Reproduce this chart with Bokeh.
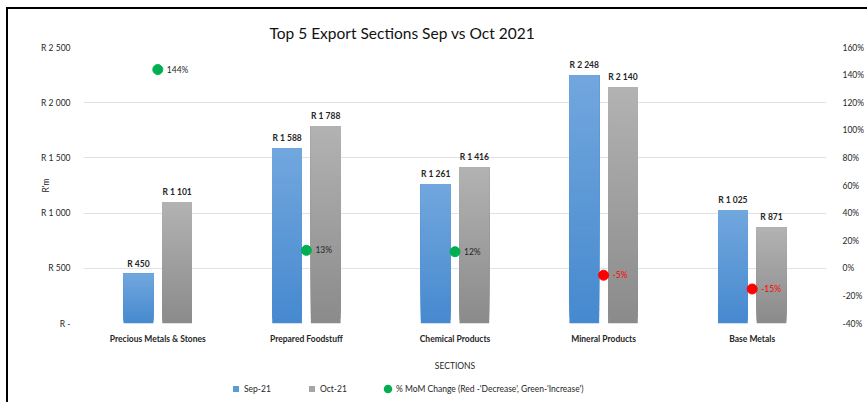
from bokeh.plotting import figure
from bokeh.layouts import column
from bokeh.models import (ColumnDataSource, FixedTicker, LinearAxis, Range1d,
                          Legend, LegendItem, Title)
from bokeh.embed import file_html
from bokeh.resources import INLINE
from bokeh.core.properties import value

# ---------------- data ----------------
sections = ["Precious Metals & Stones", "Prepared Foodstuff", "Chemical Products",
            "Mineral Products", "Base Metals"]
sep21 = [450, 1588, 1261, 2248, 1025]
oct21 = [1101, 1788, 1416, 2140, 871]
mom_pct = [144, 13, 12, -5, -15]
left_ticks = [0, 500, 1000, 1500, 2000, 2500]
left_tick_labels = ["R -", "R 500", "R 1 000", "R 1 500", "R 2 000", "R 2 500"]
right_ticks = [-40, -20, 0, 20, 40, 60, 80, 100, 120, 140, 160]
right_tick_labels = ["-40%", "-20%", "0%", "20%", "40%", "60%", "80%", "100%",
                     "120%", "140%", "160%"]
series_names = ["Sep-21", "Oct-21", "% MoM Change (Red -'Decrease', Green-'Increase')"]

F = "Lato"
TXT = "#262626"
SEP_TOP, SEP_BOT, SEP_LEG = "#72a7de", "#4689cf", "#5b9bd5"
OCT_TOP, OCT_BOT, OCT_LEG = "#b2b2b2", "#8b8b8b", "#a5a5a5"
UP, DOWN = "#00b050", "#ff0000"

W_ALL = 859
H_MAIN = 370
H_LEG = 23

p = figure(width=W_ALL, height=H_MAIN, x_range=Range1d(0, 5), y_range=Range1d(0, 2500),
           output_backend="svg", toolbar_location=None,
           min_border_left=75, min_border_right=29, min_border_top=38,
           min_border_bottom=56)
p.outline_line_color = None
p.xgrid.grid_line_color = None
p.ygrid.grid_line_color = "#dde3ea"
p.ygrid.grid_line_width = 1.2
p.ygrid.ticker = FixedTicker(ticks=left_ticks)

p.title = Title(text="Top 5 Export Sections Sep vs Oct 2021", align="left", offset=186,
                text_font=F, text_font_size="15.5px", text_font_style="normal",
                text_color="#111111", standoff=11)

# ---------------- axes ----------------
cat_pos = [i + 0.5 for i in range(len(sections))]
xa = p.xaxis[0]
xa.ticker = FixedTicker(ticks=cat_pos)
xa.major_label_overrides = {c: s for c, s in zip(cat_pos, sections)}
xa.axis_line_color = None
xa.major_tick_line_color = None
xa.minor_tick_line_color = None
xa.major_label_text_font = F
xa.major_label_text_font_size = "8.5px"
xa.major_label_text_font_style = "bold"
xa.major_label_text_color = TXT
xa.major_label_standoff = 4
xa.axis_label = "SECTIONS"
xa.axis_label_text_font = F
xa.axis_label_text_font_size = "8.5px"
xa.axis_label_text_font_style = "normal"
xa.axis_label_text_color = TXT
xa.axis_label_standoff = 14

ya = p.yaxis[0]
ya.ticker = FixedTicker(ticks=left_ticks)
ya.major_label_overrides = {t: s for t, s in zip(left_ticks, left_tick_labels)}
ya.axis_line_color = None
ya.major_tick_line_color = None
ya.minor_tick_line_color = None
ya.major_label_text_font = F
ya.major_label_text_font_size = "8.5px"
ya.major_label_text_color = TXT
ya.major_label_standoff = 7
ya.axis_label = "R'm"
ya.axis_label_text_font = F
ya.axis_label_text_font_size = "8.5px"
ya.axis_label_text_font_style = "normal"
ya.axis_label_text_color = TXT
ya.axis_label_standoff = -13

p.extra_y_ranges = {"pct": Range1d(-40, 160)}
ra = LinearAxis(y_range_name="pct", ticker=FixedTicker(ticks=right_ticks))
ra.major_label_overrides = {t: s for t, s in zip(right_ticks, right_tick_labels)}
ra.axis_line_color = None
ra.major_tick_line_color = None
ra.minor_tick_line_color = None
ra.major_label_text_font = F
ra.major_label_text_font_size = "8.5px"
ra.major_label_text_color = TXT
ra.major_label_standoff = 10
p.add_layout(ra, "right")

# ---------------- bars (vertical gradient via overlapping slices) ----------------
N = 40
OFF = 0.13
W = 0.2


def hex2rgb(h):
    return tuple(int(h[i:i + 2], 16) for i in (1, 3, 5))


def grad_source(vals, dx, top_hex, bot_hex):
    tr, br = hex2rgb(top_hex), hex2rgb(bot_hex)
    xs, bs, ts, cs = [], [], [], []
    for i, v in enumerate(vals):
        for k in range(N):
            f = (k + 0.5) / N
            rgb = tuple(int(round(br[j] + (tr[j] - br[j]) * f)) for j in range(3))
            xs.append(cat_pos[i] + dx)
            bs.append(v * k / N)
            ts.append(v)
            cs.append("#%02x%02x%02x" % rgb)
    return ColumnDataSource(dict(x=xs, bottom=bs, top=ts, color=cs))


sep_src = grad_source(sep21, -OFF, SEP_TOP, SEP_BOT)
oct_src = grad_source(oct21, OFF, OCT_TOP, OCT_BOT)
p.vbar(x="x", bottom="bottom", top="top", width=W, source=sep_src,
       fill_color="color", line_color=None)
p.vbar(x="x", bottom="bottom", top="top", width=W, source=oct_src,
       fill_color="color", line_color=None)


def rfmt(v):
    return "R " + f"{v:,}".replace(",", " ")


lab_src = ColumnDataSource(dict(
    x=[c - OFF for c in cat_pos] + [c + OFF for c in cat_pos],
    y=sep21 + oct21,
    t=[rfmt(v) for v in sep21] + [rfmt(v) for v in oct21]))
p.text(x="x", y="y", text="t", source=lab_src, text_align="center",
       text_baseline="bottom", y_offset=-5, text_font=value(F),
       text_font_size="8.5px", text_font_style="bold", text_color=TXT)

# ---------------- MoM markers ----------------
mom_src = ColumnDataSource(dict(
    x=cat_pos, y=mom_pct,
    color=[UP if v >= 0 else DOWN for v in mom_pct],
    tcolor=[TXT if v >= 0 else DOWN for v in mom_pct],
    t=[f"{v}%" for v in mom_pct]))
p.scatter(x="x", y="y", size=10, source=mom_src, y_range_name="pct",
          fill_color="color", line_color="color")
p.text(x="x", y="y", text="t", source=mom_src, y_range_name="pct",
       text_align="left", text_baseline="middle", x_offset=9,
       text_font=value(F), text_font_size="8.5px", text_color="tcolor")

# ---------------- legend strip (separate small figure) ----------------
pl = figure(width=W_ALL, height=H_LEG, x_range=Range1d(0, 1), y_range=Range1d(0, 1),
            output_backend="svg", toolbar_location=None,
            min_border_left=0, min_border_right=0, min_border_top=0,
            min_border_bottom=0)
pl.axis.visible = False
pl.grid.visible = False
pl.outline_line_color = None
dummy = dict(x=[0.5], y=[0.5])
lg_sep = pl.scatter(x="x", y="y", source=ColumnDataSource(dummy), marker="square",
                    size=0, fill_color=SEP_LEG, line_color=None)
lg_oct = pl.scatter(x="x", y="y", source=ColumnDataSource(dummy), marker="square",
                    size=0, fill_color=OCT_LEG, line_color=None)
lg_mom = pl.scatter(x="x", y="y", source=ColumnDataSource(dummy), marker="circle",
                    size=0, fill_color=UP, line_color=UP, line_width=2.5)
legend = Legend(items=[LegendItem(label=series_names[0], renderers=[lg_sep]),
                       LegendItem(label=series_names[1], renderers=[lg_oct]),
                       LegendItem(label=series_names[2], renderers=[lg_mom])],
                location=(145, 6), orientation="horizontal",
                glyph_width=15, glyph_height=15, label_standoff=1, spacing=18,
                label_width=42, padding=0, margin=0, border_line_color=None,
                background_fill_alpha=0, label_text_font=F,
                label_text_font_size="8.5px", label_text_color=TXT)
pl.add_layout(legend)

layout = column(p, pl, spacing=0)
layout.styles = {"margin-left": "6px", "margin-top": "7px",
                 "border-top": "2px solid black", "border-left": "2px solid black"}

open("out.html", "w").write(file_html(layout, INLINE))
